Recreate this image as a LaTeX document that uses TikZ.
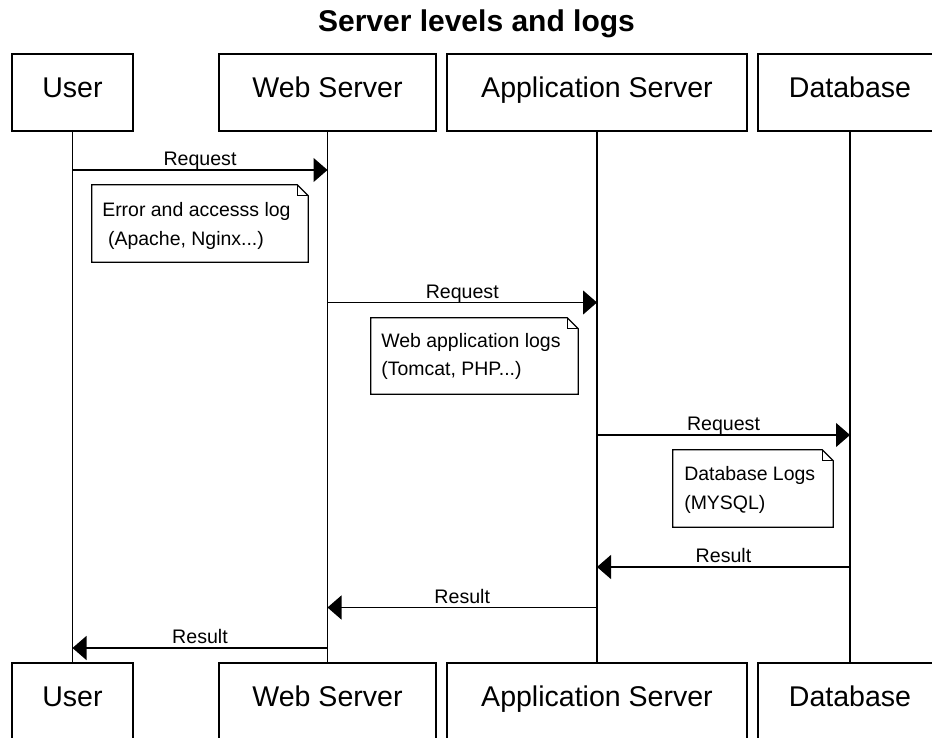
\documentclass[tikz,border=0pt]{standalone}
\usepackage{fontspec}
\setmainfont{Liberation Sans}
\usetikzlibrary{arrows.meta}
\tikzset{
  actor/.style={draw, line width=0.9pt, minimum height=77*0.75pt, inner sep=0pt,
    font=\fontsize{21.4}{25}\selectfont, text height=0.716em, text depth=0pt},
  lifeline/.style={line width=0.9pt},
  msg/.style={line width=0.9pt, -{Triangle[length=10.5pt,width=18pt]}},
  msglabel/.style={anchor=base, yshift=3.3pt, inner sep=0pt, font=\fontsize{14.7}{17}\selectfont},
  notebox/.style={draw=none, inner sep=0pt},
  notetext/.style={anchor=west, align=left, inner sep=0pt, font=\fontsize{14.6}{21.5}\selectfont},
  noteline/.style={line width=0.9pt, line join=miter},
}
\newcommand{\drawnote}[1]{%
  \draw[noteline] (#1.north west) -- ([xshift=-8.25pt]#1.north east) -- ([yshift=-8.25pt]#1.north east) -- (#1.south east) -- (#1.south west) -- cycle;
  \draw[noteline] ([xshift=-8.25pt]#1.north east) -- ([xshift=-8.25pt,yshift=-8.25pt]#1.north east) -- ([yshift=-8.25pt]#1.north east);
}
\begin{document}
\begin{tikzpicture}[x=0.75pt, y=-0.75pt]
\useasboundingbox (0,0) rectangle (932,738);
% title
\node[anchor=base, inner sep=0pt, font=\fontsize{22.5}{26}\selectfont\bfseries] (title) at (476.5,32) {Server levels and logs};
% top actors
\node[actor, minimum width=121*0.75pt] (userT) at (72.5,92.5) {User};
\node[actor, minimum width=217*0.75pt] (webT) at (327.5,92.5) {Web Server};
\node[actor, minimum width=300*0.75pt] (appT) at (597,92.5) {Application Server};
\node[actor, minimum width=184*0.75pt] (dbT) at (850,92.5) {Database};
% bottom actors
\node[actor, minimum width=121*0.75pt] (userB) at (72.5,701.5) {User};
\node[actor, minimum width=217*0.75pt] (webB) at (327.5,701.5) {Web Server};
\node[actor, minimum width=300*0.75pt] (appB) at (597,701.5) {Application Server};
\node[actor, minimum width=184*0.75pt] (dbB) at (850,701.5) {Database};
% lifelines
\draw[lifeline] (userT.south) -- (userB.north);
\draw[lifeline] (webT.south) -- (webB.north);
\draw[lifeline] (appT.south) -- (appB.north);
\draw[lifeline] (dbT.south) -- (dbB.north);
% message end points
\coordinate (u1) at (userT.south |- 0,170);
\coordinate (w1) at (webT.south |- 0,170);
\coordinate (w2) at (webT.south |- 0,302.5);
\coordinate (a2) at (appT.south |- 0,302.5);
\coordinate (a3) at (appT.south |- 0,435);
\coordinate (d3) at (dbT.south |- 0,435);
\coordinate (d4) at (dbT.south |- 0,567);
\coordinate (a4) at (appT.south |- 0,567);
\coordinate (a5) at (appT.south |- 0,607.5);
\coordinate (w5) at (webT.south |- 0,607.5);
\coordinate (w6) at (webT.south |- 0,648);
\coordinate (u6) at (userT.south |- 0,648);
% messages
\draw[msg] (u1) -- (w1) node[msglabel, midway] (l1) {Request};
\draw[msg] (w2) -- (a2) node[msglabel, midway] (l2) {Request};
\draw[msg] (a3) -- (d3) node[msglabel, midway] (l3) {Request};
\draw[msg] (d4) -- (a4) node[msglabel, midway] (l4) {Result};
\draw[msg] (a5) -- (w5) node[msglabel, midway] (l5) {Result};
\draw[msg] (w6) -- (u6) node[msglabel, midway] (l6) {Result};
% notes
\node[notebox, minimum width=216*0.75pt, minimum height=77*0.75pt] (n1) at (200,223.5) {};
\drawnote{n1}
\node[notetext] (t1) at (102,226) {Error and accesss log\\\hspace*{0.3em}(Apache, Nginx...)};
\node[notebox, minimum width=207*0.75pt, minimum height=76*0.75pt] (n2) at (474.5,356) {};
\drawnote{n2}
\node[notetext] (t2) at (381,356.5) {Web application logs\\(Tomcat, PHP...)};
\node[notebox, minimum width=160*0.75pt, minimum height=77*0.75pt] (n3) at (753,488.5) {};
\drawnote{n3}
\node[notetext] (t3) at (684,490) {Database Logs\\(MYSQL)};
\end{tikzpicture}
\end{document}
